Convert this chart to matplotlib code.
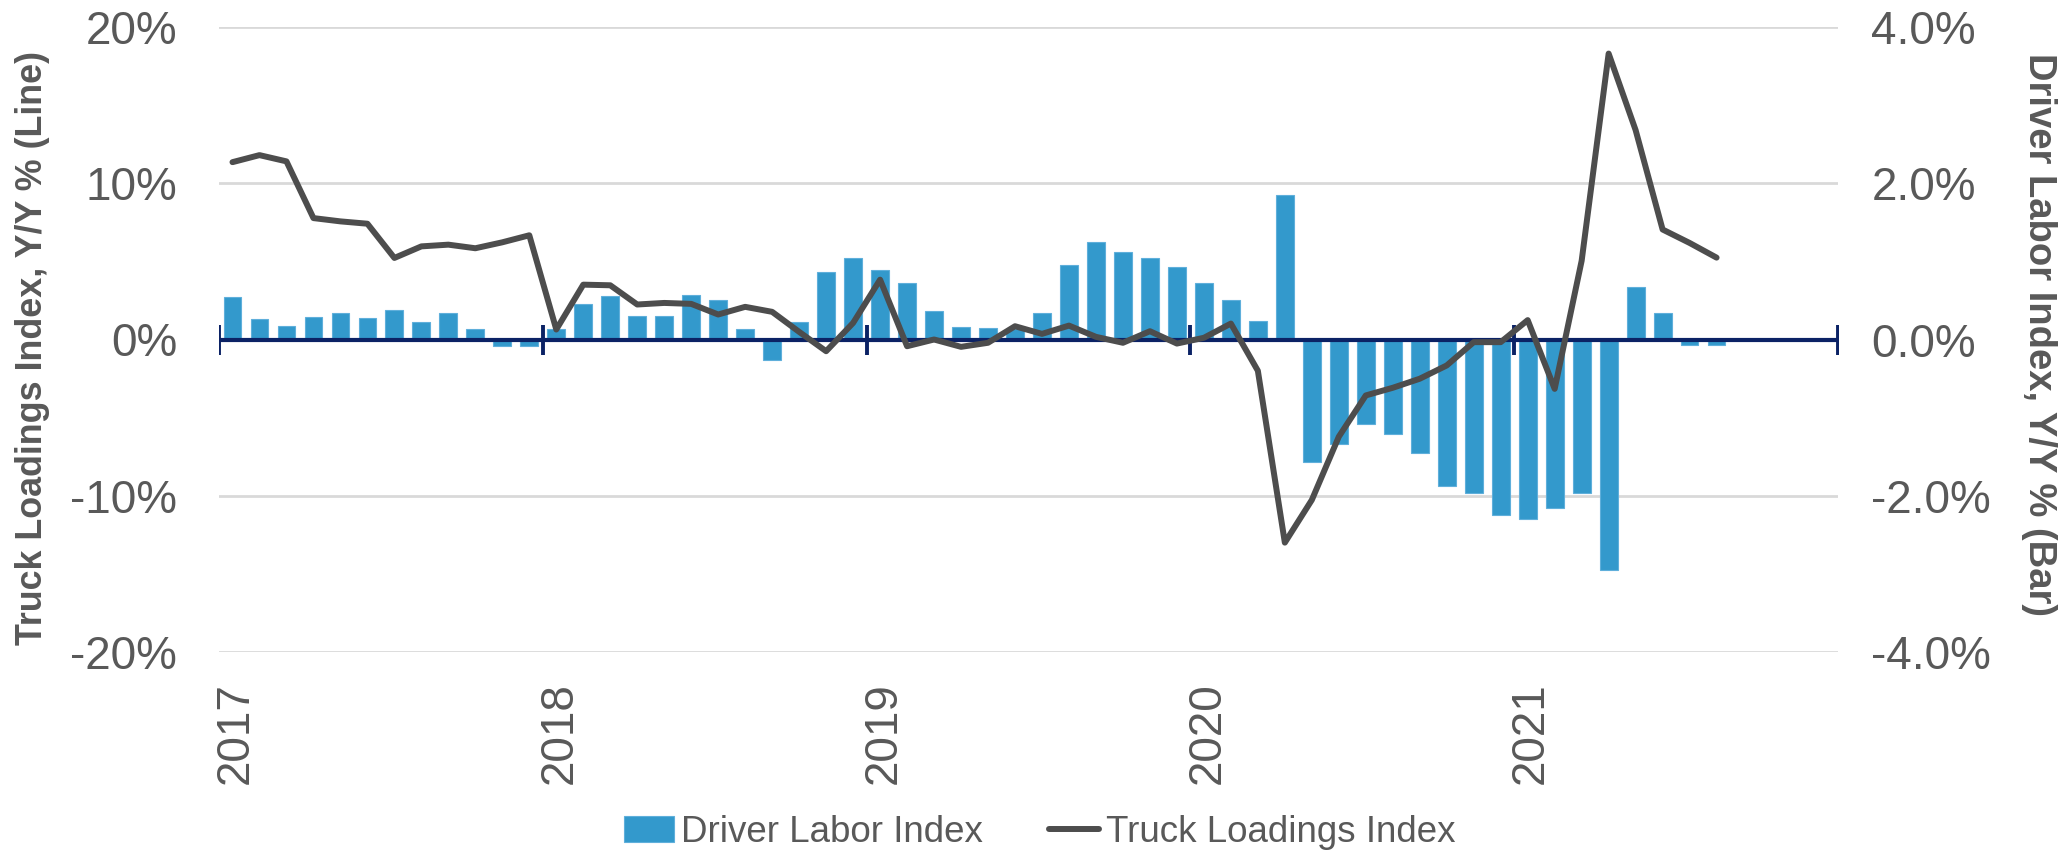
import matplotlib
matplotlib.use("Agg")
import matplotlib.pyplot as plt
from matplotlib.transforms import ScaledTranslation
from matplotlib.ticker import FixedLocator, FuncFormatter

plt.rcParams['font.family'] = ['Liberation Sans', 'DejaVu Sans']

# ---- data ----
years = ['2017', '2018', '2019', '2020', '2021']
driver_labor = [0.54, 0.26, 0.17, 0.29, 0.34, 0.28, 0.38, 0.22, 0.34, 0.14, -0.08, -0.08,
                0.14, 0.45, 0.56, 0.30, 0.30, 0.57, 0.51, 0.14, -0.26, 0.22, 0.87, 1.04,
                0.89, 0.72, 0.36, 0.16, 0.15, 0.13, 0.34, 0.95, 1.25, 1.12, 1.04, 0.93,
                0.72, 0.51, 0.24, 1.85, -1.57, -1.34, -1.08, -1.21, -1.45, -1.88, -1.97, -2.25,
                -2.30, -2.16, -1.97, -2.95, 0.67, 0.34, -0.07, -0.07]
truck_loadings = [11.35, 11.8, 11.4, 7.77, 7.56, 7.41, 5.22, 5.96, 6.07, 5.84, 6.22, 6.67,
                  0.64, 3.51, 3.47, 2.24, 2.34, 2.28, 1.6, 2.09, 1.77, 0.49, -0.75, 1.06,
                  3.83, -0.43, 0.0, -0.47, -0.21, 0.85, 0.36, 0.89, 0.17, -0.21, 0.53, -0.26,
                  0.11, 1.02, -2.0, -13.0, -10.27, -6.22, -3.58, -3.09, -2.51, -1.66, -0.17, -0.17,
                  1.24, -3.16, 5.04, 18.3, 13.4, 7.04, 6.18, 5.24]
left_ticks = [-20, -10, 0, 10, 20]
right_ticks = [-4.0, -2.0, 0.0, 2.0, 4.0]

BAR = '#3399CC'
LINE = '#4D4D4D'
NAVY = '#0B2265'
GRID = '#D9D9D9'
TXT = '#595959'

fig = plt.figure(figsize=(20.69, 8.57), dpi=100)
axL = fig.add_axes([219/2069, 1-652/857, (1838-219)/2069, (652-27)/857])
axR = axL.twinx()
axL.set_zorder(axR.get_zorder() + 1)
axL.patch.set_visible(False)

n = len(driver_labor)
x = [i + 0.5 for i in range(n)]
year_pos = [12 * i for i in range(len(years) + 1)]

# bars on right axis
axR.bar(x, driver_labor, width=0.66, color=BAR, edgecolor='#5FAFDB', linewidth=0.8,
        zorder=2, label='Driver Labor Index')
axR.set_ylim(-4, 4)
axR.yaxis.set_major_locator(FixedLocator(right_ticks))
axR.yaxis.set_major_formatter(FuncFormatter(lambda v, p: f"{v:.1f}%".replace('\u2212', '-')))
for yv in right_ticks:
    if yv != 0:
        axR.axhline(yv, color=GRID, lw=2, zorder=0)

# line on left axis
axL.set_xlim(0, 60)
axL.set_ylim(-20, 20)
axL.axhline(0, color=NAVY, lw=3, zorder=3)
axL.plot(year_pos, [0] * len(year_pos), linestyle='none', marker='|', markersize=21,
         mew=2.8, color=NAVY, zorder=3)
axL.plot(x, truck_loadings, color=LINE, lw=4.3, solid_joinstyle='round',
         solid_capstyle='round', zorder=4, label='Truck Loadings Index')
axL.yaxis.set_major_locator(FixedLocator(left_ticks))
axL.yaxis.set_major_formatter(FuncFormatter(lambda v, p: f"{int(v)}%"))

for a in (axL, axR):
    for s in a.spines.values():
        s.set_visible(False)

axL.tick_params(axis='y', length=0, pad=30, labelsize=33, labelcolor=TXT)
axR.tick_params(axis='y', length=0, pad=24, labelsize=33, labelcolor=TXT)
axL.set_xticks(year_pos[:-1])
axL.set_xticklabels(years, rotation=90)
axL.tick_params(axis='x', length=0, pad=22, labelsize=33, labelcolor=TXT)
for lab in axL.get_xticklabels():
    lab.set_transform(lab.get_transform() + ScaledTranslation(0.17, 0, fig.dpi_scale_trans))

fig.text(33/2069, 1-348/857, 'Truck Loadings Index, Y/Y % (Line)', rotation=90,
         ha='center', va='center', fontsize=25.8, fontweight='bold', color=TXT)
fig.text(2039/2069, 1-335/857, 'Driver Labor Index, Y/Y % (Bar)', rotation=270,
         ha='center', va='center', fontsize=27.5, fontweight='bold', color=TXT)

h1, l1 = axR.get_legend_handles_labels()
h2, l2 = axL.get_legend_handles_labels()
leg = fig.legend(h1 + h2, l1 + l2, loc='center', bbox_to_anchor=(1040/2069, 1-832/857),
                 ncol=2, frameon=False, fontsize=26.5, handlelength=1.35,
                 handletextpad=0.2, columnspacing=1.8, borderaxespad=0)
for t in leg.get_texts():
    t.set_color(TXT)

fig.savefig('out.png', dpi=100)
